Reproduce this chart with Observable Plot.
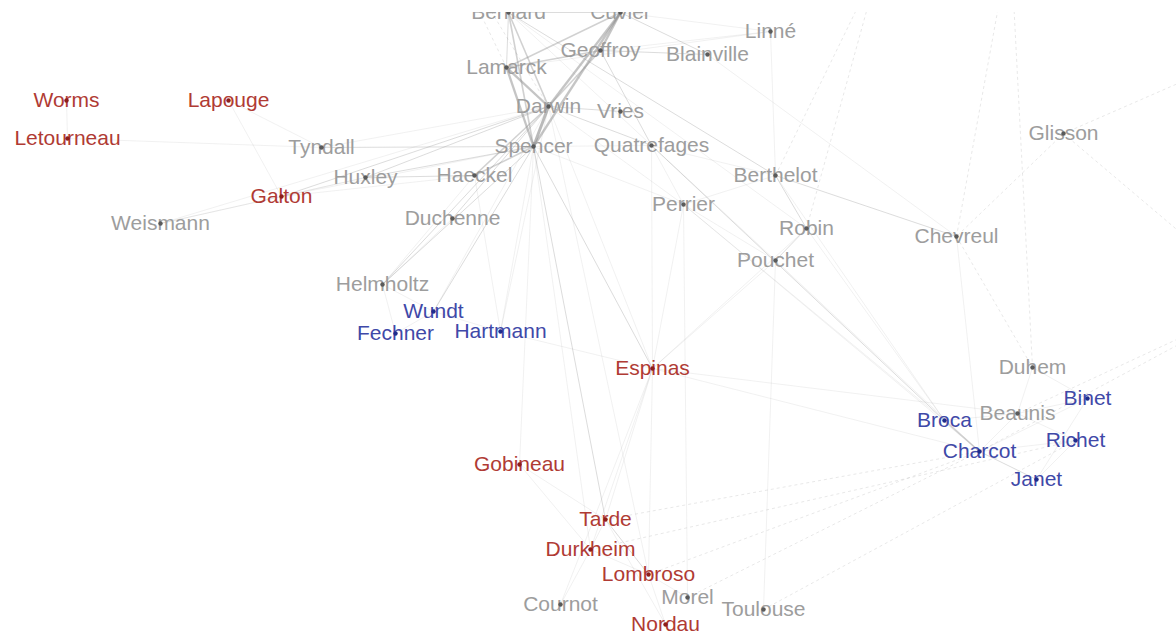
<!DOCTYPE html>
<html>
<head>
<meta charset="utf-8">
<script src="https://cdn.jsdelivr.net/npm/d3@7"></script>
<script src="https://cdn.jsdelivr.net/npm/@observablehq/plot@0.6"></script>
<style>
  html, body { margin: 0; padding: 0; background: #fff; }
  #chart svg { display: block; }
</style>
</head>
<body>
<div id="chart"></div>
<script>
// ---- Node data (layout positions) ----
const nodeNames = ["Bernard","Cuvier","Linné","Geoffroy","Blainville","Lamarck","Darwin","Vries","Spencer","Quatrefages",
  "Haeckel","Berthelot","Tyndall","Huxley","Galton","Weismann","Letourneau","Worms","Lapouge","Duchenne",
  "Perrier","Robin","Chevreul","Pouchet","Glisson","Helmholtz","Wundt","Fechner","Hartmann","Espinas",
  "Duhem","Binet","Beaunis","Broca","Charcot","Richet","Janet","Gobineau","Tarde","Durkheim",
  "Lombroso","Cournot","Morel","Toulouse","Nordau",
  "", "", "", "", ""];
const nodeX = [508,620,770,600,707,506,548,620,533,651,
  474,775,321,365,281,160,67,66,228,452,
  683,806,956,775,1063,382,433,395,500,652,
  1032,1087,1017,944,979,1075,1036,519,605,590,
  648,560,687,763,665,
  1260,880,1010,430,1230];
const nodeY = [12,12,31,50,54,67,106,111,146,145,
  175,175,147,177,196,223,138,100,100,218,
  204,228,236,260,133,284,311,333,331,368,
  367,398,413,420,451,440,479,464,519,549,
  574,604,597,609,624,
  300,-40,-60,-90,60];
// group: g = other, r = social sciences, b = psychology, h = hidden (outside the crop)
const nodeGroup = ["g","g","g","g","g","g","g","g","g","g",
  "g","g","g","g","r","g","r","r","r","g",
  "g","g","g","g","g","g","b","b","b","r",
  "g","b","g","b","b","b","b","r","r","r",
  "r","g","g","g","r",
  "h","h","h","h","h"];
const hiddenIds = ["offR","offT","offT2","offTL","offTR"];

// ---- Edge data: [source, target, weight, dashed] ----
const edges = [
  ["Darwin","Spencer",5,0],["Cuvier","Spencer",4,0],["Cuvier","Darwin",4,0],["Cuvier","Geoffroy",4,0],
  ["Lamarck","Darwin",4,0],["Lamarck","Spencer",4,0],["Bernard","Darwin",3,0],["Bernard","Spencer",3,0],
  ["Bernard","Lamarck",2,0],["Lamarck","Geoffroy",3,0],["Lamarck","Cuvier",3,0],["Geoffroy","Darwin",3,0],
  ["Bernard","Berthelot",2,0],["Darwin","Haeckel",3,0],["Spencer","Haeckel",3,0],["Spencer","Huxley",2,0],
  ["Darwin","Huxley",2,0],["Haeckel","Huxley",2,0],["Spencer","Tyndall",2,0],["Darwin","Tyndall",1,0],
  ["Darwin","Galton",2,0],["Spencer","Galton",1,0],["Huxley","Galton",1,0],["Galton","Weismann",1,0],
  ["Darwin","Weismann",1,0],["Spencer","Helmholtz",2,0],["Darwin","Helmholtz",2,0],["Haeckel","Helmholtz",1,0],
  ["Duchenne","Darwin",2,0],["Duchenne","Helmholtz",1,0],["Spencer","Wundt",2,0],["Darwin","Wundt",1,0],
  ["Spencer","Hartmann",1,0],["Darwin","Hartmann",1,0],["Wundt","Fechner",1,0],["Helmholtz","Fechner",1,0],
  ["Spencer","Tarde",2,0],["Spencer","Espinas",2,0],["Darwin","Espinas",1,0],["Spencer","Durkheim",1,0],
  ["Spencer","Gobineau",1,0],["Darwin","Lombroso",1,0],["Geoffroy","Blainville",2,0],["Cuvier","Blainville",2,0],
  ["Cuvier","Linné",1,0],["Lamarck","Linné",1,0],["Geoffroy","Linné",1,0],["Bernard","Cuvier",2,0],
  ["Darwin","Vries",2,0],["Geoffroy","Quatrefages",2,0],["Darwin","Quatrefages",2,0],["Spencer","Quatrefages",1,0],
  ["Quatrefages","Perrier",1,0],["Quatrefages","Berthelot",1,0],["Quatrefages","Broca",2,0],["Broca","Charcot",3,0],
  ["Berthelot","Chevreul",2,0],["Berthelot","Robin",2,0],["Robin","Pouchet",2,0],["Bernard","Pouchet",1,0],
  ["Bernard","Robin",1,0],["Perrier","Berthelot",1,0],["Perrier","Pouchet",1,0],["Perrier","Broca",1,0],
  ["Pouchet","Charcot",1,0],["Robin","Broca",1,0],["Berthelot","Broca",1,0],["Pouchet","Toulouse",1,0],
  ["Perrier","Morel",1,0],["Quatrefages","Espinas",1,0],["Espinas","Tarde",1,0],["Espinas","Durkheim",1,0],
  ["Espinas","Lombroso",1,0],["Espinas","Charcot",1,0],["Espinas","Beaunis",1,0],["Espinas","Perrier",1,0],
  ["Espinas","Pouchet",1,0],["Espinas","Hartmann",1,0],["Tarde","Durkheim",1,0],["Tarde","Lombroso",2,0],
  ["Lombroso","Nordau",1,0],["Tarde","Nordau",1,0],["Durkheim","Cournot",1,0],["Durkheim","Lombroso",1,0],
  ["Lombroso","Morel",1,0],["Morel","Charcot",1,1],["Lombroso","Charcot",1,1],["Tarde","Charcot",1,1],
  ["Durkheim","Richet",1,1],["Charcot","Janet",2,0],["Charcot","Richet",1,0],["Charcot","Beaunis",1,0],
  ["Charcot","Binet",1,0],["Beaunis","Binet",1,0],["Beaunis","Richet",1,0],["Binet","Janet",1,0],
  ["Richet","Janet",1,0],["Duhem","Beaunis",1,0],["Duhem","Binet",1,0],["Broca","Beaunis",1,0],
  ["Chevreul","Charcot",1,0],["Chevreul","Duhem",1,1],["Blainville","Chevreul",1,0],["Linné","Berthelot",1,0],
  ["Hartmann","Haeckel",1,0],["Lapouge","Tyndall",1,0],["Letourneau","Tyndall",1,0],["Worms","Letourneau",1,0],
  ["Lapouge","Galton",1,0],["Weismann","Huxley",1,0],["Galton","Haeckel",1,0],["Cournot","Espinas",1,0],
  ["Helmholtz","Wundt",1,0],["Wundt","Hartmann",1,0],["Toulouse","Richet",1,1],["Glisson","Chevreul",1,1],
  ["Beaunis","offR",1,1],["Glisson","offR",1,1],["Berthelot","offT",1,1],["Robin","offT",1,1],
  ["Chevreul","offT2",1,1],["Duhem","offT2",1,1],["Glisson","offTR",1,1],["Lamarck","offTL",1,1],
  ["Darwin","offTL",1,1],["Charcot","offR",1,1],["Espinas","Robin",1,0],["Perrier","Charcot",1,0],
  ["Gobineau","Tarde",1,0],["Durkheim","Gobineau",1,0],["Spencer","Perrier",1,0],["Darwin","Perrier",1,0]
];

// ---- Build tables ----
const ids = nodeNames.map((n, i) => n || hiddenIds[i - 45]);
const nodes = ids.map((id, i) => ({id, label: nodeNames[i], x: nodeX[i], y: nodeY[i], group: nodeGroup[i]}));
const byId = new Map(nodes.map(d => [d.id, d]));
const links = edges.map(([s, t, w, dash]) => ({
  x1: byId.get(s).x, y1: byId.get(s).y, x2: byId.get(t).x, y2: byId.get(t).y, w, dash
}));
const visible = nodes.filter(d => d.group !== "h");

const textColor = {g: "#9d9d9d", r: "#b03b34", b: "#3f49a8"};
const dotColor = {g: "#5a5a5a", r: "#8e1e1a", b: "#1f2c8c"};
const widthByW = [0, 0.6, 1.0, 1.6, 2.3, 3.0];
const opacityByW = [0, 0.2, 0.3, 0.4, 0.5, 0.6];

const W = 1176, H = 637;
const chart = Plot.plot({
  width: W, height: H,
  marginLeft: 0, marginRight: 0, marginTop: 12, marginBottom: 0,
  x: {domain: [0, W], range: [0, W], axis: null},
  y: {domain: [0, H], range: [0, H], axis: null},
  style: {background: "#fff"},
  marks: [
    Plot.link(links.filter(d => !d.dash), {
      x1: "x1", y1: "y1", x2: "x2", y2: "y2",
      stroke: "#8c8c8c", strokeWidth: d => widthByW[d.w], strokeOpacity: d => opacityByW[d.w], clip: true
    }),
    Plot.link(links.filter(d => d.dash), {
      x1: "x1", y1: "y1", x2: "x2", y2: "y2",
      stroke: "#8c8c8c", strokeWidth: 0.9, strokeOpacity: 0.22, strokeDasharray: "3,3", clip: true
    }),
    Plot.text(visible, {
      x: "x", y: "y", text: "label", fill: d => textColor[d.group],
      fontSize: 21, fontFamily: "Liberation Sans, Arial, sans-serif", clip: true
    }),
    Plot.dot(visible, {
      x: "x", y: "y", r: 2.2, fill: d => dotColor[d.group], stroke: "none", clip: true
    })
  ]
});
document.getElementById("chart").append(chart);
</script>
</body>
</html>
